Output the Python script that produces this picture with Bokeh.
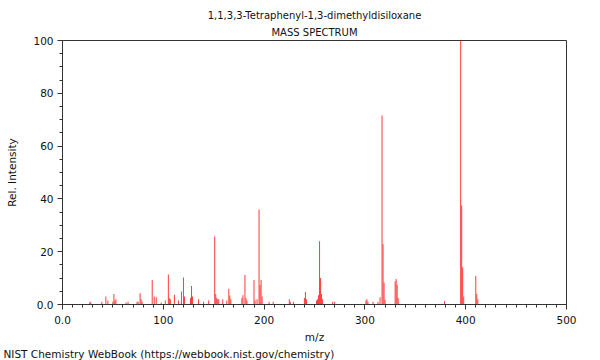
from bokeh.plotting import figure
from bokeh.models import ColumnDataSource, Title, SingleIntervalTicker, Range1d
from bokeh.embed import file_html
from bokeh.resources import INLINE

# m/z values and relative intensities
mz = [27, 28, 39, 43, 45, 50, 51, 52, 53, 63, 65, 74, 75, 77, 78, 79,
      89, 91, 93, 98, 102, 105, 106, 107, 111, 115, 118, 120, 121, 127, 128, 129,
      135, 140, 145, 151, 152, 153, 154, 155, 159, 163, 165, 166, 167,
      178, 179, 181, 182, 183, 190, 191, 193, 195, 196, 197, 198, 205, 209,
      225, 226, 229, 240, 241, 242, 252, 253, 254, 255, 256, 257, 258, 268, 270,
      301, 302, 303, 308, 313, 315, 317, 318, 319, 320, 330, 331, 332, 333,
      379, 395, 396, 397, 398, 410, 411, 412]
intensity = [0.8, 1.0, 1.0, 3.0, 1.5, 1.0, 4.0, 1.5, 2.0, 0.8, 1.0, 1.0, 1.0, 4.3, 2.0, 1.0,
             9.3, 3.0, 2.7, 0.8, 1.5, 11.4, 2.5, 2.0, 3.7, 1.5, 4.9, 10.2, 3.0, 2.5, 7.0, 3.0,
             2.0, 1.0, 1.5, 25.8, 4.0, 2.5, 2.0, 2.0, 2.0, 1.5, 6.0, 3.4, 2.0,
             2.5, 3.5, 11.2, 2.5, 1.5, 9.3, 1.5, 2.0, 36.0, 7.4, 9.3, 3.0, 1.0, 1.0,
             2.0, 1.0, 1.0, 2.5, 4.7, 2.0, 1.5, 2.0, 3.5, 24.0, 10.0, 4.0, 2.0, 1.0, 1.0,
             1.5, 2.0, 1.0, 1.0, 1.0, 2.7, 71.6, 22.8, 8.3, 1.8, 8.8, 9.7, 7.5, 2.5,
             1.3, 100.0, 37.5, 14.1, 3.0, 10.8, 4.0, 2.0]

x_tick_labels = {0: "0.0"}
y_tick_labels = {0: "0.0"}

title_line1 = "1,1,3,3-Tetraphenyl-1,3-dimethyldisiloxane"
title_line2 = "MASS SPECTRUM"
footer = "NIST Chemistry WebBook (https://webbook.nist.gov/chemistry)"

FONT = "DejaVu Sans"
AXC = "#333333"

source = ColumnDataSource(dict(mz=mz, inten=intensity))

p = figure(frame_width=504, frame_height=264, output_backend="svg", toolbar_location=None,
           x_range=Range1d(0, 500), y_range=Range1d(0, 100),
           min_border_left=62, min_border_right=34, min_border_top=40, min_border_bottom=56)
p.title = None
p.xgrid.visible = False
p.ygrid.visible = False
p.outline_line_color = AXC
p.outline_line_width = 1
p.background_fill_color = "white"
p.border_fill_color = "white"

p.vbar(x="mz", top="inten", bottom=0, width=1.0, source=source,
       fill_color="#ff3c3c", line_color=None)

p.xaxis.ticker = SingleIntervalTicker(interval=100, num_minor_ticks=10)
p.yaxis.ticker = SingleIntervalTicker(interval=20, num_minor_ticks=4)
p.xaxis.major_label_overrides = x_tick_labels
p.yaxis.major_label_overrides = y_tick_labels
for ax in (p.xaxis[0], p.yaxis[0]):
    ax.axis_line_color = AXC
    ax.major_tick_line_color = AXC
    ax.minor_tick_line_color = AXC
    ax.major_tick_out = 5
    ax.major_tick_in = 0
    ax.minor_tick_out = 3
    ax.minor_tick_in = 0
    ax.major_label_text_font = FONT
    ax.major_label_text_font_size = "10.5px"
    ax.major_label_text_color = "#111111"
    ax.axis_label_text_font = FONT
    ax.axis_label_text_font_size = "10.5px"
    ax.axis_label_text_font_style = "normal"
    ax.axis_label_text_color = "#111111"
p.xaxis.axis_label = "m/z"
p.yaxis.axis_label = "Rel. Intensity"
p.xaxis.major_label_standoff = 6
p.xaxis.axis_label_standoff = 4
p.yaxis.major_label_standoff = 4
p.yaxis.axis_label_standoff = 12

t2 = Title(text=title_line2, align="center", text_font=FONT, text_font_size="10px",
           text_font_style="normal", text_color="#111111", standoff=5)
t1 = Title(text=title_line1, align="center", text_font=FONT, text_font_size="10px",
           text_font_style="normal", text_color="#111111", standoff=3)
p.add_layout(t2, "above")
p.add_layout(t1, "above")

tf = Title(text=footer, align="left", offset=-59, text_font=FONT, text_font_size="10.5px",
           text_font_style="normal", text_color="#111111", standoff=0)
p.add_layout(tf, "below")

open("out.html", "w").write(file_html(p, INLINE))
